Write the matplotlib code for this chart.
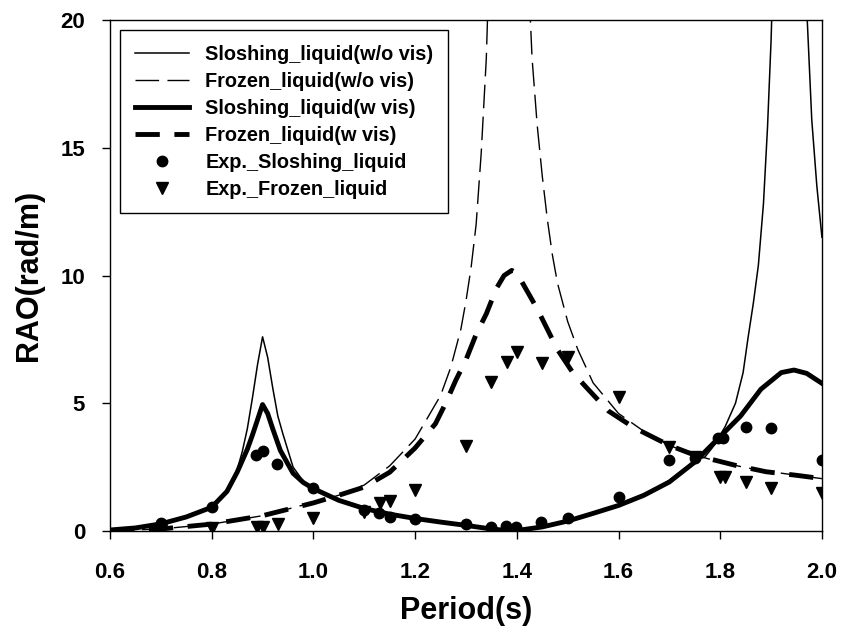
import matplotlib
matplotlib.use("Agg")
from matplotlib import pyplot as plt

plt.rcParams['font.family'] = ['Liberation Sans', 'DejaVu Sans']
plt.rcParams['font.weight'] = 'bold'

# Sloshing liquid, without viscosity (thin solid)
slosh_wo_x = [0.60, 0.65, 0.70, 0.75, 0.80, 0.83, 0.85, 0.86, 0.87, 0.88, 0.89, 0.90,
              0.91, 0.92, 0.93, 0.94, 0.96, 0.98, 1.00, 1.05, 1.10, 1.15, 1.20, 1.25,
              1.30, 1.35, 1.38, 1.40, 1.45, 1.50, 1.55, 1.60, 1.65, 1.70, 1.75, 1.77,
              1.79, 1.81, 1.83, 1.845, 1.855, 1.865, 1.875, 1.885, 1.893, 1.90, 1.91,
              1.93, 1.95, 1.96, 1.97, 1.98, 1.99, 2.00]
slosh_wo_y = [0.04, 0.12, 0.28, 0.55, 0.93, 1.5, 2.4, 3.1, 4.0, 5.2, 6.5, 7.6,
              6.8, 5.6, 4.5, 3.8, 2.5, 1.95, 1.66, 1.2, 0.88, 0.66, 0.49, 0.35,
              0.22, 0.08, 0.02, 0.02, 0.16, 0.39, 0.69, 1.0, 1.42, 1.98, 2.75, 2.9,
              3.4, 4.1, 5.0, 6.2, 7.6, 8.9, 10.4, 12.8, 15.8, 19.2, 26.0,
              50.0, 55.0, 30.0, 20.5, 16.1, 13.5, 11.5]

# Frozen liquid, without viscosity (thin dashed)
frozen_wo_x = [0.60, 0.70, 0.80, 0.90, 1.00, 1.05, 1.10, 1.15, 1.20, 1.25, 1.27, 1.29,
               1.30, 1.31, 1.32, 1.33, 1.34, 1.35, 1.36, 1.37, 1.38, 1.39, 1.40, 1.41,
               1.42, 1.43, 1.44, 1.45, 1.46, 1.47, 1.48, 1.50, 1.52, 1.55, 1.60, 1.65,
               1.70, 1.75, 1.80, 1.85, 1.90, 1.95, 2.00]
frozen_wo_y = [0.01, 0.08, 0.27, 0.6, 1.12, 1.4, 1.8, 2.55, 3.6, 5.3, 6.4, 7.9,
               9.0, 10.3, 12.0, 14.8, 18.5, 25.0, 32.0, 40.0, 45.0, 45.0, 38.0, 30.0,
               23.0, 18.5, 15.9, 13.9, 12.2, 10.8, 9.7, 8.2, 7.1, 5.8, 4.6, 3.9,
               3.35, 2.97, 2.7, 2.48, 2.32, 2.18, 2.05]

# Sloshing liquid, with viscosity (thick solid)
slosh_w_x = [0.60, 0.65, 0.70, 0.75, 0.80, 0.83, 0.85, 0.87, 0.88, 0.89, 0.90, 0.91,
             0.92, 0.935, 0.96, 0.98, 1.00, 1.05, 1.10, 1.15, 1.20, 1.25, 1.30, 1.35,
             1.38, 1.40, 1.45, 1.50, 1.55, 1.60, 1.65, 1.70, 1.75, 1.80, 1.84, 1.88,
             1.92, 1.945, 1.97, 2.00]
slosh_w_y = [0.04, 0.12, 0.28, 0.55, 0.93, 1.55, 2.3, 3.2, 3.75, 4.35, 4.95, 4.6,
             4.0, 3.15, 2.26, 1.9, 1.66, 1.2, 0.88, 0.66, 0.49, 0.35, 0.22, 0.08,
             0.02, 0.02, 0.16, 0.39, 0.69, 1.0, 1.4, 1.92, 2.7, 3.7, 4.5, 5.55,
             6.2, 6.3, 6.17, 5.78]

# Frozen liquid, with viscosity (thick dashed)
frozen_w_x = [0.60, 0.70, 0.80, 0.90, 1.00, 1.05, 1.10, 1.15, 1.20, 1.24, 1.26, 1.28,
              1.30, 1.32, 1.34, 1.36, 1.375, 1.39, 1.40, 1.42, 1.44, 1.45, 1.48, 1.51,
              1.54, 1.58, 1.63, 1.70, 1.75, 1.83, 1.89, 1.95, 2.00]
frozen_w_y = [0.01, 0.08, 0.27, 0.6, 1.1, 1.4, 1.72, 2.3, 3.25, 4.2, 5.0, 5.9,
              6.7, 7.7, 8.5, 9.5, 10.0, 10.2, 10.1, 9.4, 8.7, 8.3, 7.1, 6.2,
              5.55, 4.7, 4.05, 3.35, 2.97, 2.57, 2.32, 2.18, 2.05]

# Experiments
exp_slosh_x = [0.70, 0.80, 0.887, 0.90, 0.928, 1.00, 1.10, 1.128, 1.15, 1.20, 1.30,
               1.35, 1.378, 1.398, 1.447, 1.50, 1.60, 1.70, 1.75, 1.795, 1.805,
               1.85, 1.90, 2.00]
exp_slosh_y = [0.3, 0.95, 2.98, 3.14, 2.62, 1.68, 0.82, 0.69, 0.56, 0.46, 0.27,
               0.14, 0.2, 0.17, 0.34, 0.52, 1.34, 2.78, 2.87, 3.65, 3.65,
               4.06, 4.02, 2.78]

exp_frozen_x = [0.70, 0.80, 0.89, 0.90, 0.93, 1.00, 1.10, 1.13, 1.15, 1.20, 1.30,
                1.35, 1.38, 1.40, 1.45, 1.50, 1.60, 1.70, 1.75, 1.80, 1.81, 1.85,
                1.90, 2.00]
exp_frozen_y = [0.04, 0.1, 0.17, 0.17, 0.27, 0.52, 0.76, 1.08, 1.17, 1.6, 3.33,
                5.84, 6.63, 7.0, 6.59, 6.82, 5.25, 3.3, 2.9, 2.13, 2.13, 1.93,
                1.67, 1.47]

x_ticks = [0.6, 0.8, 1.0, 1.2, 1.4, 1.6, 1.8, 2.0]
y_ticks = [0, 5, 10, 15, 20]

fig = plt.figure(figsize=(8.43, 6.39), dpi=100)
ax = fig.add_axes([0.1305, 0.169, 0.8445, 0.7997])

ax.plot(slosh_wo_x, slosh_wo_y, color='black', lw=1.1, label='Sloshing_liquid(w/o vis)')
ax.plot(frozen_wo_x, frozen_wo_y, color='black', lw=1.0, dashes=(17, 6),
        label='Frozen_liquid(w/o vis)')
ax.plot(slosh_w_x, slosh_w_y, color='black', lw=3.5, label='Sloshing_liquid(w vis)')
ax.plot(frozen_w_x, frozen_w_y, color='black', lw=3.5, dashes=(5, 3),
        label='Frozen_liquid(w vis)')
ax.plot(exp_slosh_x, exp_slosh_y, 'o', color='black', ms=7.5, label='Exp._Sloshing_liquid')
ax.plot(exp_frozen_x, exp_frozen_y, 'v', color='black', ms=8.5, label='Exp._Frozen_liquid')

ax.set_xlim(0.6, 2.0)
ax.set_ylim(0, 20)
ax.set_xticks(x_ticks)
ax.set_xticklabels(['%.1f' % t for t in x_ticks])
ax.set_yticks(y_ticks)
ax.tick_params(direction='out', length=6, width=1, labelsize=16)
ax.tick_params(axis='x', pad=16)
ax.tick_params(axis='y', pad=12)
for s in ax.spines.values():
    s.set_linewidth(1.0)

ax.set_xlabel('Period(s)', fontsize=22, fontweight='bold', labelpad=10)
ax.set_ylabel('RAO(rad/m)', fontsize=22, fontweight='bold', labelpad=12)

leg = ax.legend(loc='upper left', fontsize=14.3, handlelength=2.75, handletextpad=0.8,
                labelspacing=0.4, borderpad=0.75, borderaxespad=0.5, numpoints=1,
                fancybox=False, framealpha=1, edgecolor='black')
leg.get_frame().set_linewidth(1.0)

fig.savefig('out.png', dpi=100)
